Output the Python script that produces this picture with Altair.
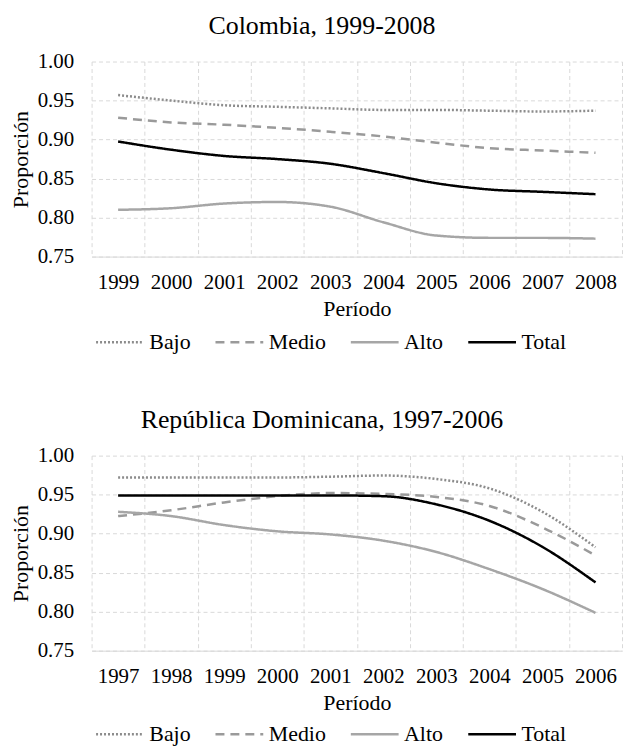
import altair as alt
import pandas as pd

series = ["Bajo", "Medio", "Alto", "Total"]
series_colors = ["#8c8c8c", "#9a9a9a", "#a6a6a6", "#000000"]
series_dashes = [[2, 2], [9, 6], [1, 0], [1, 0]]

col_years = [1999, 2000, 2001, 2002, 2003, 2004, 2005, 2006, 2007, 2008]
col_bajo = [0.957, 0.950, 0.944, 0.942, 0.940, 0.938, 0.938, 0.937, 0.936, 0.937]
col_medio = [0.928, 0.922, 0.919, 0.915, 0.910, 0.904, 0.896, 0.889, 0.886, 0.883]
col_alto = [0.810, 0.812, 0.818, 0.820, 0.814, 0.794, 0.777, 0.774, 0.774, 0.773]
col_total = [0.8975, 0.887, 0.879, 0.875, 0.869, 0.857, 0.844, 0.836, 0.833, 0.830]

dom_years = [1997, 1998, 1999, 2000, 2001, 2002, 2003, 2004, 2005, 2006]
dom_bajo = [0.972, 0.972, 0.972, 0.972, 0.973, 0.9745, 0.970, 0.958, 0.928, 0.8825]
dom_medio = [0.9225, 0.930, 0.940, 0.948, 0.952, 0.951, 0.947, 0.9355, 0.908, 0.872]
dom_alto = [0.928, 0.9225, 0.911, 0.903, 0.899, 0.891, 0.8765, 0.8545, 0.829, 0.7985]
dom_total = [0.949, 0.949, 0.949, 0.949, 0.949, 0.948, 0.9375, 0.9165, 0.883, 0.8375]

y_ticks = [0.75, 0.80, 0.85, 0.90, 0.95, 1.00]

FONT = "Liberation Serif"


def make_df(years, bajo, medio, alto, total):
    rows = []
    for name, vals in zip(series, [bajo, medio, alto, total]):
        for yr, v in zip(years, vals):
            rows.append({"year": str(yr), "serie": name, "value": v})
    return pd.DataFrame(rows)


def legend(ly):
    return alt.Legend(
        title=None,
        orient="none",
        legendX=3,
        legendY=ly,
        direction="horizontal",
        columns=4,
        symbolType="stroke",
        symbolSize=2304,
        symbolStrokeWidth=2.5,
        labelFont=FONT,
        labelFontSize=22,
        labelColor="#000000",
        labelOffset=4,
        columnPadding=23,
        clipHeight=24,
        padding=0,
    )


def panel(title, df, ly):
    return (
        alt.Chart(df)
        .mark_line(interpolate="monotone", strokeWidth=2.5)
        .encode(
            x=alt.X(
                "year:O",
                bandPosition=0.5,
                scale=alt.Scale(type="band", paddingInner=0, paddingOuter=0),
                axis=alt.Axis(
                    title="Período",
                    tickBand="extent",
                    labelAngle=0,
                    ticks=False,
                    tickSize=0,
                    grid=True,
                    gridDash=[4, 3],
                    gridColor="#d9d9d9",
                    gridWidth=1,
                    domainColor="#d9d9d9",
                    domainWidth=1,
                    labelPadding=15,
                    titlePadding=6,
                ),
            ),
            y=alt.Y(
                "value:Q",
                scale=alt.Scale(domain=[0.75, 1.0], nice=False, zero=False),
                axis=alt.Axis(
                    title="Proporción",
                    values=y_ticks,
                    format=".2f",
                    ticks=False,
                    tickSize=0,
                    domain=False,
                    grid=True,
                    gridDash=[4, 3],
                    gridColor="#d9d9d9",
                    gridWidth=1,
                    labelPadding=18,
                    titlePadding=5,
                ),
            ),
            color=alt.Color(
                "serie:N",
                scale=alt.Scale(domain=series, range=series_colors),
                legend=legend(ly),
            ),
            strokeDash=alt.StrokeDash(
                "serie:N",
                scale=alt.Scale(domain=series, range=series_dashes),
                legend=legend(ly),
            ),
            order=alt.Order("serie:N"),
        )
        .properties(
            width=533,
            height=196,
            title=alt.TitleParams(
                text=title,
                font=FONT,
                fontSize=26,
                fontWeight="normal",
                color="#000000",
                anchor="middle",
                frame="group",
                dx=-35,
                offset=12,
            ),
        )
    )


top = panel("Colombia, 1999-2008", make_df(col_years, col_bajo, col_medio, col_alto, col_total), 270)
bottom = panel(
    "República Dominicana, 1997-2006",
    make_df(dom_years, dom_bajo, dom_medio, dom_alto, dom_total),
    268,
)

chart = (
    alt.vconcat(top, bottom, spacing=51)
    .resolve_scale(color="independent", strokeDash="independent")
    .resolve_legend(color="independent", strokeDash="independent")
    .properties(padding={"left": 0, "top": 2, "right": 0, "bottom": 0})
    .configure(font=FONT)
    .configure_view(stroke="transparent")
    .configure_axis(
        labelFont=FONT,
        labelFontSize=21,
        labelColor="#000000",
        titleFont=FONT,
        titleFontSize=22,
        titleFontWeight="normal",
        titleColor="#000000",
    )
)

chart.save("out.html", embed_options={"renderer": "svg", "actions": False})
